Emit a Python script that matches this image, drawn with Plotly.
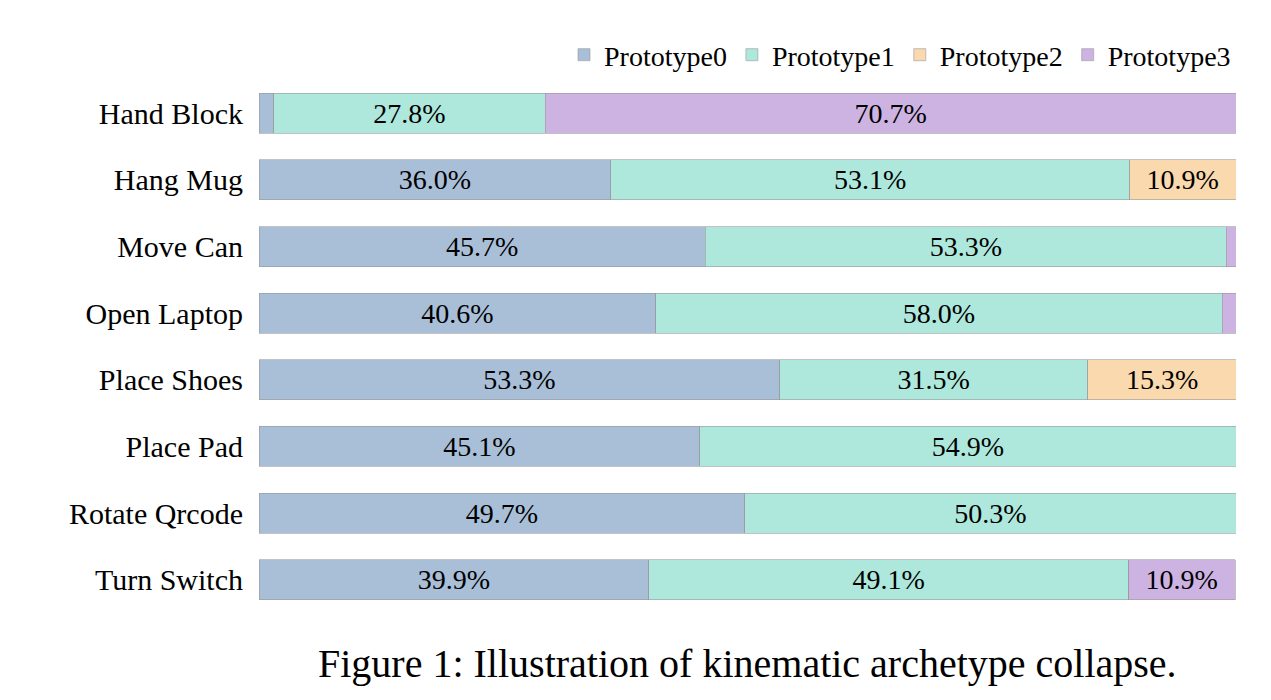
import plotly.graph_objects as go

categories = ["Hand Block", "Hang Mug", "Move Can", "Open Laptop", "Place Shoes", "Place Pad", "Rotate Qrcode", "Turn Switch"]
p0 = [1.5, 36.0, 45.7, 40.6, 53.3, 45.1, 49.7, 39.9]
p1 = [27.8, 53.1, 53.3, 58.0, 31.5, 54.9, 50.3, 49.1]
p2 = [0.0, 10.9, 0.0, 0.0, 15.3, 0.0, 0.0, 0.0]
p3 = [70.7, 0.0, 1.0, 1.4, 0.0, 0.0, 0.0, 10.9]
names = ["Prototype0", "Prototype1", "Prototype2", "Prototype3"]
colors = ["#a9bfd8", "#aee8dc", "#f9d9ad", "#cdb3e2"]

fig = go.Figure()
for name, vals, c in zip(names, [p0, p1, p2, p3], colors):
    fig.add_bar(
        y=categories, x=vals, name=name, orientation="h",
        marker=dict(color=c, line=dict(color="#999999", width=0.6)),
        text=[f"{v:.1f}%" if v >= 5 else "" for v in vals],
        textposition="inside", insidetextanchor="middle",
        textfont=dict(size=28, color="black", family="Liberation Serif"),
        constraintext="none",
    )

fig.update_layout(
    barmode="stack", bargap=0.4,
    width=1271, height=700,
    margin=dict(l=251, r=43, t=72, b=95),
    plot_bgcolor="white", paper_bgcolor="white",
    font=dict(family="Liberation Serif", color="black"),
    uniformtext=dict(mode=False),
    legend=dict(orientation="h", x=1.0, xanchor="right", y=1.0, yanchor="bottom",
                font=dict(size=28), traceorder="normal", itemwidth=30, entrywidth=0),
    xaxis=dict(range=[0, 100], visible=False, fixedrange=True),
    yaxis=dict(autorange="reversed", tickfont=dict(size=30), ticks="", showline=False,
               showgrid=False, ticksuffix="  "),
    annotations=[dict(text="Figure 1: Illustration of kinematic archetype collapse.",
                      x=0.5, xref="paper", xanchor="center",
                      y=655, yref="paper", showarrow=False, font=dict(size=40))],
)
fig.layout.annotations[0].update(y=-(655 - 72 - 533) / 533 - 0.0, yanchor="middle")
fig.write_html("out.html")
